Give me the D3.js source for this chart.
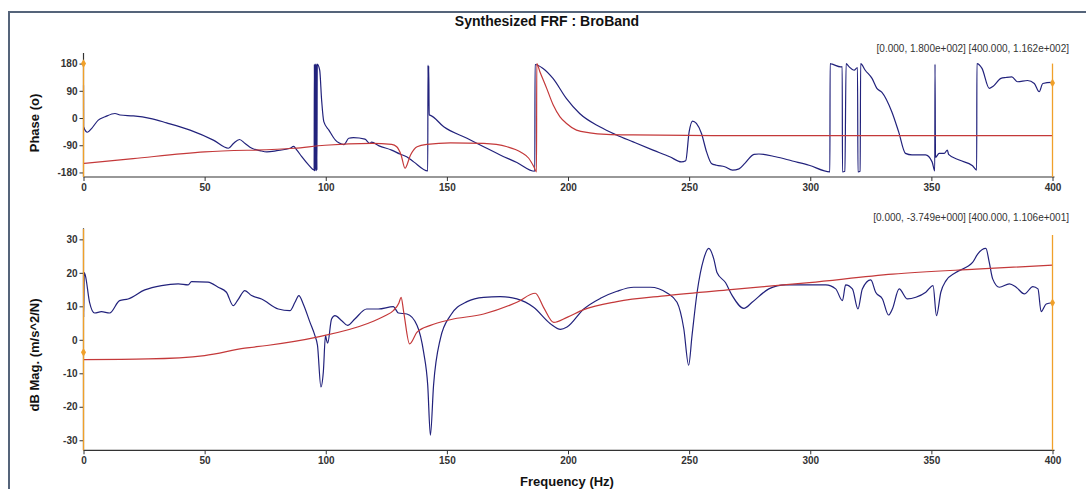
<!DOCTYPE html>
<html><head><meta charset="utf-8">
<script src="https://cdn.jsdelivr.net/npm/d3@7"></script>
<style>
html,body{margin:0;padding:0;background:#fff;}
svg{display:block;font-family:"Liberation Sans",Arial,sans-serif;}
</style></head>
<body>
<svg id="chart" width="1086" height="489"></svg>
<script>
// ---- data ----
const titleText = "Synthesized FRF : BroBand";
const xLabel = "Frequency (Hz)";
const phaseLabel = "Phase (o)";
const magLabel = "dB Mag. (m/s^2/N)";
const xTicks = [0, 50, 100, 150, 200, 250, 300, 350, 400];
const phaseTicks = [-180, -90, 0, 90, 180];
const magTicks = [-30, -20, -10, 0, 10, 20, 30];
const phaseCursorText = "[0.000, 1.800e+002] [400.000, 1.162e+002]";
const magCursorText = "[0.000, -3.749e+000] [400.000, 1.106e+001]";
const cursorX = [0, 400];
const phaseCursorY = [180, 116.2];
const magCursorY = [-3.749, 11.06];

// measured phase (Hz, deg)
const measPhaseF = [0,0.05,1.6,3.4,6.1,8.9,13,15.1,20.6,27.4,34.3,44,53.6,59.8,61.9,64.4,66.7,69.5,72.9,75.7,79.8,85.3,86.7,88,90.1,92.9,95.2,
  95.3,95.45,95.6,95.75,95.9,96.05,96.2,96.35,96.5,97.5,98.3,99.2,101.3,104,105.4,107.5,109.5,111.4,116.2,118.2,118.9,122,127.2,130.6,133.4,136.3,142.1,
  142.2,142.35,142.5,142.7,143.2,148.7,158.3,165.2,172,178.9,186.3,186.4,189.7,193.8,199.3,204.8,213.1,220,226.9,235.1,242,246.8,248.6,250,251.4,253,255.1,257.2,259.2,261.3,264.7,267.9,270.6,273,276.8,278.8,285.7,292.6,299.5,308.1,
  308.2,309.1,312.6,313.2,313.3,314.3,314.8,316,318.1,319.5,319.7,320.6,320.8,322.7,325.5,327.5,329.6,333.7,336.5,339.3,342,347.6,350.3,351.4,351.5,351.7,353.2,355.3,356.6,357.1,361.5,367,368.7,
  368.8,370.9,373.9,375.5,378.7,380.8,383.2,385.6,389.7,392.5,394.5,396,399.5,400];
const measPhase = [108,-29,-47,-34,-7,4,15,10,7,-1,-16,-40,-73,-100,-84,-71,-84,-100,-108,-112,-108,-100,-94,-105,-128,-155,-172,
  178,-176,179,-170,178,-175,179,-172,178,158,59,-12,-40,-73,-82,-88,-67,-65,-70,-84,-80,-92,-106,-119,-128,-145,-175,
  175,40,172,10,9,-29,-67,-95,-122,-147,-176,177,164,131,65,15,-29,-56,-79,-106,-128,-145,-141,-46,-10,-18,-51,-112,-150,-156,-161,-172,-168,-150,-120,-119,-128,-142,-156,-178,
  180,178,169,170,-178,-176,180,170,158,167,-178,-176,180,158,131,98,85,20,-46,-117,-122,-122,-145,-175,178,-130,-117,-117,-106,-120,-139,-158,-172,
  180,164,98,105,131,134,136,120,124,114,87,114,118,116.2];

// synthesized phase
const synPhaseF = [0,20.5,50,87,99.7,119,127.2,129.3,131.1,132.7,135,137.7,141.8,151.5,165.2,174.9,180.4,183.8,185.9,187,187.1,188.4,191.2,193.9,196.7,199.4,203.5,209,215.9,226.9,260,400];
const synPhase = [-150,-134,-112,-100,-90,-84,-87,-95,-122,-166,-122,-95,-87,-82,-84,-95,-112,-133,-161,-178,180,153,98,43,4,-18,-40,-49,-54,-56,-58,-58];

// measured magnitude (Hz, dB)
const measMagF = [0,0.05,0.3,0.8,2.5,4.6,7.4,10.8,14.9,18.4,25.3,32.2,39.1,43.2,44.6,51.4,55.6,59,61.8,63.8,66.6,69.4,73.5,80.4,85.2,87.3,88.9,90.7,93.5,95.5,96.6,98,99,99.9,100.3,100.8,102.4,103.8,106.6,109,112,116.9,121.7,127.9,130,133.5,137.7,140.4,142.1,143.2,144.5,147.3,151.4,158.3,165.2,172,178.9,185.8,192.7,196.9,199.6,206.5,213.4,220.2,227.1,234,240.9,245,247.8,249.8,251.2,253.3,256,258.1,260.2,261.5,265,267.8,272.6,276,282.9,289.8,306.4,310.5,313.3,314.6,317.4,319.7,321.5,325,327,329.8,332.3,333.9,336.7,340.1,343.6,347.7,350.7,352.1,353.9,356,360.1,367,369.1,372.5,373.9,375.3,378.1,382.2,385,388.4,391.9,394,395.3,397.4,400];
const measMag = [20.1,6.7,20.1,19.1,11.2,8.0,8.4,8.0,11.7,12.2,14.9,16.2,16.7,16.4,17.4,17.2,15.7,14.2,10.2,12,14.7,13.2,12.2,9.2,8.7,11.2,13.2,10.7,5.2,1.3,-1.7,-14.1,-9.6,1.3,0,-1,6.2,7.2,5.7,4.3,6.2,9.2,9.2,9.9,8,7.7,4.3,-3.7,-13.6,-28.5,-13.6,0.3,7.2,11.4,12.7,12.9,12.2,9.7,4.8,3.1,3.8,9.2,12.4,14.5,15.7,15.7,14,11.2,3.3,-7.6,1.3,14.2,24.1,27.3,24.1,20.1,17.1,13.2,9.4,11.2,15.2,16.4,16.4,15.2,11.7,16.4,15.2,9.2,15.2,17.9,14.2,12.2,7.4,9.2,15.2,12.2,12.7,14.2,16.2,7.2,14.2,17.6,20.1,23.1,25.6,27.3,23.1,18.2,15.7,16.7,15.7,13.7,15.9,15.2,8.4,10.7,11.06];

// synthesized magnitude
const synMagF = [0,26.7,50,66.6,75.7,96.4,117,124.5,127.9,130.2,131.1,132.2,134.6,137.7,143.2,151.4,165.2,178.9,186.5,189.9,194.1,199.6,206.5,220.2,240.9,267.1,299.6,334,368.4,400];
const synMag = [-5.9,-5.7,-4.7,-2.5,-1.7,0.8,4.8,7.2,8.7,11,12.7,8.2,-1.2,2.3,4.3,6,7.7,11.2,13.9,9.7,5.2,6.7,9,11.4,13.2,15,17.1,19.6,21.1,22.3];

// ---- drawing ----
const svg = d3.select("#chart");
const W = 1086, H = 489;
const BLUE = "#22227c", RED = "#c4393a", ORANGE = "#f0a02a", AXIS = "#333";

svg.append("rect").attr("x",0).attr("y",0).attr("width",W).attr("height",H).attr("fill","#fff");
svg.append("rect").attr("x",9).attr("y",12).attr("width",1100).attr("height",500)
  .attr("fill","none").attr("stroke","#55647a").attr("stroke-width",2);

svg.append("text").attr("x",547).attr("y",26).attr("text-anchor","middle")
  .attr("font-size",14).attr("font-weight","bold").attr("fill","#111").text(titleText);

const x = d3.scaleLinear().domain([0,400]).range([83.5,1052.5]);
const yP = d3.scaleLinear().domain([-195,215]).range([177,53]);
const yM = d3.scaleLinear().domain([-33,33.3]).range([450.3,228.3]);
const fmt = d => String(d);

function panel(y, ticks, label, labelY, measF, meas, synF, syn, curY, curText, textY, cursorTop) {
  const g = svg.append("g");
  const xa = g.append("g").attr("transform",`translate(0,${y.range()[0]})`)
    .call(d3.axisBottom(x).tickValues(xTicks).tickSize(4).tickPadding(3).tickFormat(fmt));
  const ya = g.append("g").attr("transform",`translate(${x(0)},0)`)
    .call(d3.axisLeft(y).tickValues(ticks).tickSize(4).tickPadding(2).tickFormat(fmt));
  [xa, ya].forEach(a => {
    a.select(".domain").attr("stroke",AXIS).attr("stroke-width",1.2);
    a.selectAll(".tick line").attr("stroke",AXIS);
    a.selectAll("text").attr("font-size",10).attr("font-weight","bold").attr("fill","#333")
      .attr("font-family","'Liberation Sans',Arial,sans-serif");
  });
  ya.select(".domain").attr("d",`M0,${y.range()[1]}V${y.range()[0]}`);
  xa.select(".domain").attr("d",`M${x.range()[0]},0H${x.range()[1]+2}`);

  g.append("text").attr("transform",`translate(39,${labelY}) rotate(-90)`)
    .attr("text-anchor","middle").attr("font-size",13).attr("font-weight","bold").attr("fill","#111").text(label);

  const line = d3.line().curve(d3.curveMonotoneX).x(d => x(d[0])).y(d => y(d[1]));
  const clipId = "c" + Math.round(y.range()[0]);
  g.append("clipPath").attr("id",clipId).append("rect")
    .attr("x",x(0)-1).attr("y",y.range()[1]).attr("width",x(400)-x(0)+2).attr("height",y.range()[0]-y.range()[1]);
  g.append("path").datum(measF.map((f,i)=>[f,meas[i]])).attr("d",line)
    .attr("fill","none").attr("stroke",BLUE).attr("stroke-width",1.2).attr("clip-path",`url(#${clipId})`);
  g.append("path").datum(synF.map((f,i)=>[f,syn[i]])).attr("d",line)
    .attr("fill","none").attr("stroke",RED).attr("stroke-width",1.2).attr("clip-path",`url(#${clipId})`);

  cursorX.forEach((cx,i) => {
    g.append("line").attr("x1",x(cx)).attr("x2",x(cx)).attr("y1",cursorTop[i]).attr("y2",y.range()[0])
      .attr("stroke",ORANGE).attr("stroke-width",1.3);
    g.append("path").attr("d",d3.symbol(d3.symbolDiamond,22)())
      .attr("transform",`translate(${x(cx)},${y(curY[i])})`).attr("fill",ORANGE);
  });
  g.append("text").attr("x",1069).attr("y",textY).attr("text-anchor","end")
    .attr("font-size",10).attr("fill","#333").text(curText);
}

panel(yP, phaseTicks, phaseLabel, 123, measPhaseF, measPhase, synPhaseF, synPhase, phaseCursorY, phaseCursorText, 52, [yP(180), yP(180)]);
panel(yM, magTicks, magLabel, 355, measMagF, measMag, synMagF, synMag, magCursorY, magCursorText, 221, [229, 235]);

svg.append("text").attr("x",567).attr("y",486).attr("text-anchor","middle")
  .attr("font-size",13).attr("font-weight","bold").attr("fill","#111").text(xLabel);
</script>
</body></html>
